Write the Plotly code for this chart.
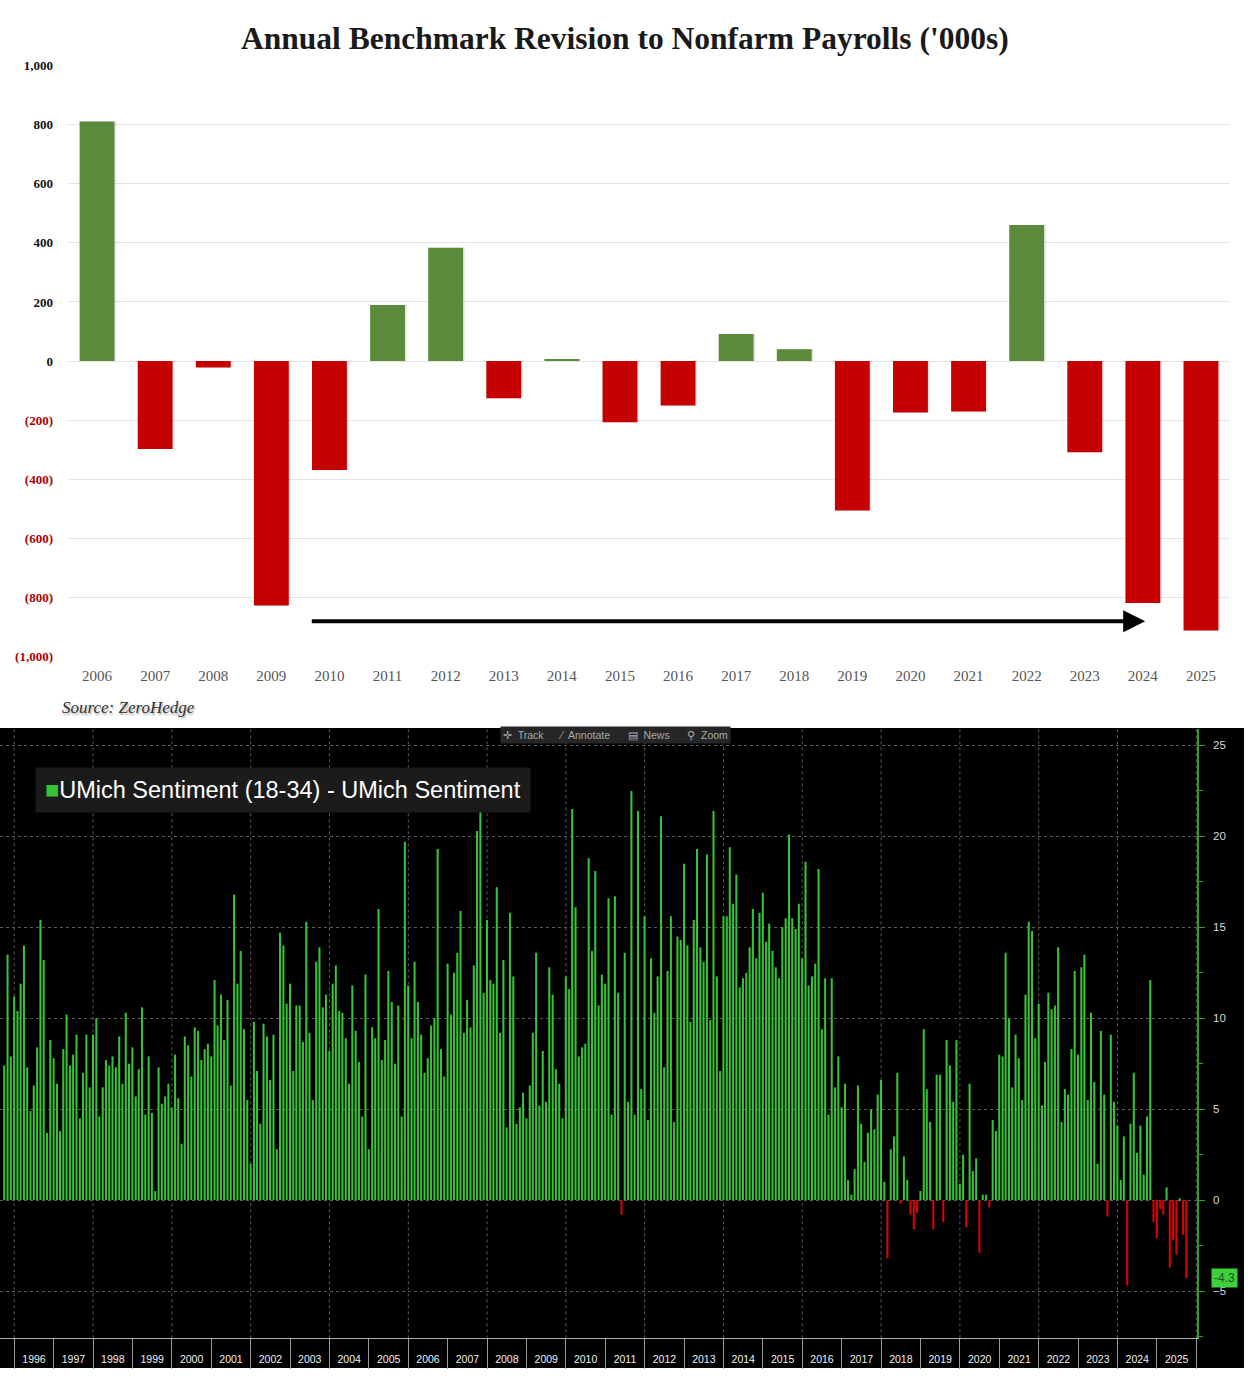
import plotly.graph_objects as go
import pandas as pd

W, H = 1259, 1376

# ---------------- Top chart data ----------------
nfp_years = [str(y) for y in range(2006, 2026)]
nfp_revisions = [810, -297, -22, -826, -368, 190, 383, -126, 7, -207, -150, 92, 40,
                 -505, -174, -170, 460, -308, -818, -911]
nfp_tickvals = [1000, 800, 600, 400, 200, 0, -200, -400, -600, -800, -1000]

# ---------------- Bottom chart data (monthly, Sep-1995 .. Sep-2025) ----------------
umich_start = "1995-09-30"
umich_1995_1998 = [7.4, 13.5, 7.9, 11.2, 10.4, 11.9, 14.0, 7.3, 4.9, 6.3, 8.4, 15.4, 13.2, 3.7,
                   8.8, 7.8, 6.4, 3.8, 8.3, 10.2, 7.4, 8.0, 9.1, 4.5, 7.0, 9.1, 6.2, 9.1, 10.0,
                   4.6, 6.2, 7.7, 7.4, 7.9, 7.3, 9.0, 6.4, 10.3]
umich_1998_2001 = [7.5, 8.4, 5.7, 7.2, 10.6, 4.7, 7.9, 4.8, 0.5, 7.3, 5.3, 5.7, 6.4, 5.1, 8.0,
                   5.6, 3.1, 9.0, 8.5, 6.8, 9.5, 9.3, 7.7, 8.3, 8.6, 7.9, 12.1, 9.6, 11.3, 8.8,
                   11.0, 6.3, 16.8, 11.9, 13.7, 9.4]
umich_2001_2004 = [5.5, 2.0, 9.8, 7.1, 4.2, 9.7, 9.0, 6.6, 9.1, 2.8, 14.7, 14.0, 10.8, 11.9,
                   7.1, 10.7, 10.7, 8.7, 15.3, 9.2, 5.5, 13.1, 13.9, 10.6, 11.3, 8.2, 11.9, 12.9,
                   10.4, 10.3, 8.9, 6.4, 11.8, 9.3, 7.6, 4.6, 12.4]
umich_2004_2007 = [2.8, 9.5, 8.9, 16.0, 7.7, 8.8, 12.6, 10.9, 7.5, 10.7, 4.6, 19.7, 11.8, 8.9,
                   13.1, 10.9, 9.1, 7.0, 7.8, 9.6, 10.0, 19.3, 8.3, 6.8, 13.0, 10.2, 12.5, 13.6,
                   15.9, 9.2, 11.0, 9.5, 12.9, 20.3, 23.2, 11.4]
umich_2007_2010 = [15.4, 12.1, 11.9, 17.2, 9.2, 13.2, 4.0, 15.8, 12.3, 4.2, 5.1, 5.9, 4.5, 6.3,
                   9.2, 13.6, 5.2, 8.2, 5.4, 12.8, 11.3, 7.2, 6.4, 4.5, 12.3, 11.6, 21.5, 16.1,
                   7.9, 8.4, 8.6, 18.8, 13.7, 18.1, 10.7, 12.4, 11.9]
umich_2010_2013 = [16.6, 4.7, 16.7, 11.4, -0.8, 13.6, 5.4, 22.5, 4.7, 21.4, 6.1, 15.6, 4.4, 13.3,
                   10.3, 12.3, 21.1, 7.3, 12.6, 15.6, 4.3, 14.5, 14.3, 18.5, 14.0, 9.8, 15.4,
                   19.3, 13.9, 13.1, 19.0, 9.9, 21.4, 12.3, 7.1, 15.6]
umich_2013_2016 = [15.6, 19.4, 16.3, 17.9, 11.7, 12.2, 12.5, 13.9, 16.0, 13.3, 15.8, 16.9, 14.2,
                   15.2, 13.7, 12.8, 12.2, 15.0, 15.5, 20.1, 15.5, 14.9, 16.3, 13.3, 18.6, 11.8,
                   12.3, 13.0, 18.2, 9.4, 12.2, 4.7, 12.2, 6.2, 7.9, 5.1, 6.4]
umich_2016_2019 = [1.1, 0.3, 1.7, 6.3, 4.2, 2.1, 3.7, 5.0, 3.9, 5.8, 6.6, 1.0, -3.2, 2.8, 3.5,
                   7.0, -0.2, 2.4, 1.1, -0.8, -1.6, -0.7, 0.5, 9.4, 6.1, 4.3, -1.6, 6.9, 6.9,
                   -1.2, 8.8, 7.4, 5.4, 8.8, 0.9, 2.5]
umich_2019_2022 = [-1.5, 6.4, 1.6, 2.3, -2.9, 0.3, 0.3, -0.4, 4.4, 3.8, 8.0, 7.9, 13.6, 10.0,
                   6.2, 9.1, 7.8, 5.5, 11.3, 15.3, 14.8, 8.9, 10.8, 5.2, 7.6, 11.4, 10.5, 10.7,
                   13.9, 4.3, 6.1, 5.8, 8.3, 12.6, 8.0, 12.8, 13.5]
umich_2022_2025 = [5.5, 10.3, 6.5, 2.0, 9.3, 5.8, -0.9, 9.1, 5.4, 4.1, 1.1, 3.5, -4.7, 4.2, 7.0,
                   2.6, 4.1, 1.4, 4.6, 12.1, -1.2, -2.1, -0.5, -0.8, 0.7, -3.7, -2.2, -3.0, 0.1,
                   -1.9, -4.3]
umich_values = (umich_1995_1998 + umich_1998_2001 + umich_2001_2004 + umich_2004_2007 +
                umich_2007_2010 + umich_2010_2013 + umich_2013_2016 + umich_2016_2019 +
                umich_2019_2022 + umich_2022_2025)
umich_dates = pd.date_range(umich_start, periods=len(umich_values), freq="ME")
umich_ticks = [-5, 0, 5, 10, 15, 20, 25]
grid_years = list(range(1996, 2027, 2))

# ---------------- Colours ----------------
TOP_GREEN, TOP_RED = "#5b8b3a", "#c40000"
BB_GREEN, BB_RED = "#35c435", "#e00000"

fig = go.Figure()

# soft shadow for top bars
fig.add_trace(go.Bar(
    x=nfp_years, y=nfp_revisions, xaxis="x", yaxis="y",
    marker=dict(color="rgba(0,0,0,0.10)", line=dict(width=0)),
    offset=-0.27, width=0.6, hoverinfo="skip"))
fig.add_trace(go.Bar(
    x=nfp_years, y=nfp_revisions, xaxis="x", yaxis="y",
    marker=dict(color=[TOP_GREEN if v >= 0 else TOP_RED for v in nfp_revisions], line=dict(width=0)),
    offset=-0.3, width=0.6))

fig.add_trace(go.Bar(
    x=umich_dates, y=umich_values, xaxis="x2", yaxis="y2",
    marker=dict(color=[BB_GREEN if v >= 0 else BB_RED for v in umich_values], line=dict(width=0)),
    width=19 * 86400000))


def fy(px):
    return (H - px) / H


neg_red = "#b00000"
ticktext = []
for v in nfp_tickvals:
    if v < 0:
        ticktext.append(f"<span style='color:{neg_red}'>({abs(v):,})</span>")
    else:
        ticktext.append(f"{v:,}")

fig.update_layout(
    width=W, height=H, margin=dict(l=0, r=0, t=0, b=0),
    paper_bgcolor="white", plot_bgcolor="rgba(0,0,0,0)",
    showlegend=False, barmode="overlay",
    xaxis=dict(domain=[68 / W, 1230 / W], anchor="y", type="category", range=[-0.5, 19.5],
               showgrid=False, showline=False, zeroline=False, ticks="",
               tickfont=dict(family="Liberation Serif", size=15, color="#555"),
               ticklabelstandoff=8),
    yaxis=dict(domain=[fy(657), fy(59)], anchor="x", range=[-1000, 1000],
               tickvals=nfp_tickvals, ticktext=ticktext, showgrid=True, gridcolor="#e4e4e4",
               gridwidth=1, zeroline=False, showline=False, ticks="",
               tickfont=dict(family="Liberation Serif", size=13, color="#111", weight="bold"),
               ticklabelstandoff=14),
    xaxis2=dict(domain=[0, 1197 / W], anchor="y2", type="date",
                range=["1995-08-22", "2026-01-07"],
                tick0="1996-01-01", dtick="M12", tickformat="%Y", ticklabelmode="period",
                ticks="outside", ticklen=30, tickcolor="#9a9a9a", tickwidth=1,
                showline=True, linecolor="#b0b0b0", linewidth=1,
                showgrid=False, zeroline=False,
                tickfont=dict(family="Liberation Sans", size=10.5, color="#f0f0f0"),
                ticklabelstandoff=-19),
    yaxis2=dict(domain=[fy(1346), fy(730)], anchor="x2", side="right", range=[-7.6, 25.9],
                tickvals=umich_ticks, showgrid=True, gridcolor="#5a5a5a", griddash="dot",
                gridwidth=1, zeroline=False, showline=True, linecolor="#2c9e2c", linewidth=1.5,
                ticks="outside", ticklen=6, tickcolor="#2c9e2c", tickwidth=1,
                minor=dict(dtick=2.5, tick0=0, ticks="outside", ticklen=4, tickcolor="#2c9e2c",
                           showgrid=False),
                ticklabelstandoff=6,
                tickfont=dict(family="Liberation Sans", size=11.5, color="#d8d8d8")),
)

shapes = [
    dict(type="rect", xref="paper", yref="paper", x0=0, x1=1244 / W, y0=0, y1=fy(729),
         fillcolor="black", line=dict(width=0), layer="below"),
]
for yr in grid_years:
    shapes.append(dict(type="line", xref="x2", yref="y2", x0=f"{yr}-01-01", x1=f"{yr}-01-01",
                       y0=-7.6, y1=25.9, line=dict(color="#5a5a5a", width=1, dash="dot"),
                       layer="below"))
fig.update_layout(shapes=shapes)

annotations = [
    dict(xref="paper", yref="paper", x=625 / W, y=fy(32), xanchor="center", yanchor="middle",
         text="Annual Benchmark Revision to Nonfarm Payrolls ('000s)", showarrow=False,
         font=dict(family="Liberation Serif", size=31.5, color="#1a1a1a", weight="bold")),
    dict(xref="paper", yref="paper", x=60 / W, y=fy(708), xanchor="left", yanchor="middle",
         text="Source: ZeroHedge", showarrow=False,
         font=dict(family="Liberation Serif", size=17, color="#333", style="italic",
                   shadow="1px 2px 2px #aaa")),
    dict(xref="x", yref="y", x=18.04, y=-880, axref="x", ayref="y", ax=3.67, ay=-880,
         text="", showarrow=True, arrowhead=2, arrowsize=1.1, arrowwidth=4, arrowcolor="black"),
    dict(xref="paper", yref="paper", x=35 / W, y=fy(792), xanchor="left", yanchor="middle",
         text="<span style='color:#35c435'>■</span>UMich Sentiment (18-34) - UMich Sentiment",
         showarrow=False, bgcolor="#1b1b1b", borderpad=9,
         font=dict(family="Liberation Sans", size=23.5, color="white")),
    dict(xref="paper", yref="paper", x=615 / W, y=fy(736), xanchor="center", yanchor="middle",
         text="✛  Track      ⁄  Annotate      ▤  News      ⚲  Zoom", showarrow=False,
         bgcolor="#262626", borderpad=2,
         font=dict(family="Liberation Sans", size=10.5, color="#a8a8a8")),
    dict(xref="paper", yref="y2", x=1211 / W, y=umich_values[-1], xanchor="left",
         yanchor="middle", text=f"{umich_values[-1]:.1f}", showarrow=False,
         bgcolor="#3dd03d", borderpad=2,
         font=dict(family="Liberation Sans", size=12, color="#1f4f1f")),
]
fig.update_layout(annotations=annotations)

fig.write_html(
    "out.html",
    config={"displayModeBar": False},
    post_script=("document.body.style.margin='0px';"
                 "document.body.style.overflow='hidden';"
                 "document.documentElement.style.overflow='hidden';"),
)
